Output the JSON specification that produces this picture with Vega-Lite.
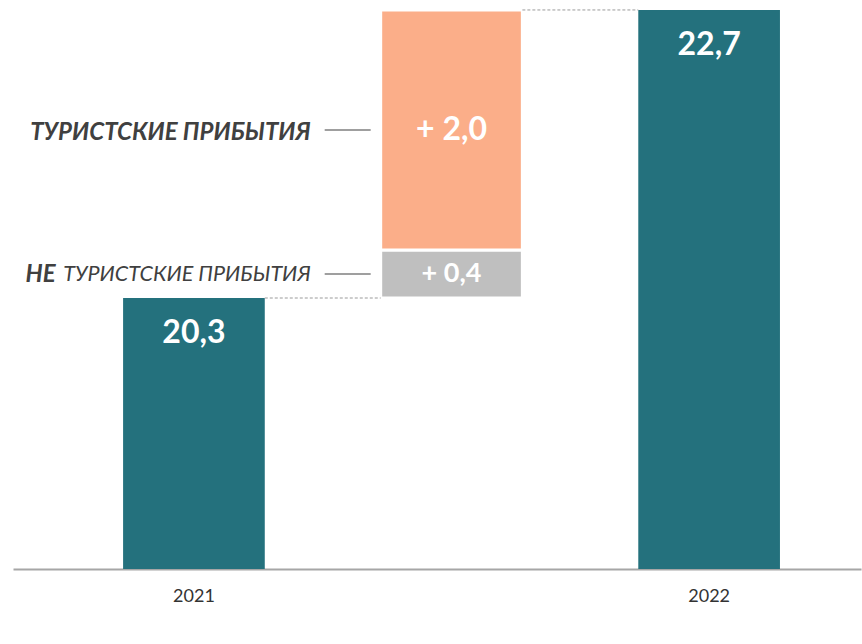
{
  "$schema": "https://vega.github.io/schema/vega-lite/v6.json",
  "width": 848,
  "height": 569,
  "autosize": {"type": "none"},
  "padding": {"left": 13, "top": 0, "right": 1, "bottom": 75},
  "background": "white",
  "config": {"view": {"stroke": null}, "font": "Lato"},
  "datasets": {
    "bars": [
      {"cat": "2021", "start": 18, "end": 20.3, "kind": "total", "label": "20,3", "note": ""},
      {"cat": "mid", "start": 20.3, "end": 20.7, "kind": "non", "label": "+ 0,4", "note": "ТУРИСТСКИЕ ПРИБЫТИЯ"},
      {"cat": "mid", "start": 20.7, "end": 22.7, "kind": "tour", "label": "+ 2,0", "note": "ТУРИСТСКИЕ ПРИБЫТИЯ"},
      {"cat": "2022", "start": 18, "end": 22.7, "kind": "total", "label": "22,7", "note": ""}
    ],
    "links": [
      {"from": "2021", "to": "mid", "level": 20.3},
      {"from": "mid", "to": "2022", "level": 22.7}
    ]
  },
  "encoding": {
    "x": {
      "field": "cat",
      "type": "nominal",
      "sort": ["2021", "mid", "2022"],
      "scale": {"type": "band", "domain": ["2021", "mid", "2022"], "paddingInner": 0.45, "paddingOuter": 0.371, "align": 0.576},
      "axis": {
        "title": null,
        "labelExpr": "datum.value == 'mid' ? '' : datum.value",
        "domain": true,
        "domainColor": "#a6a6a6",
        "domainWidth": 2,
        "ticks": false,
        "grid": false,
        "labelFontSize": 18,
        "labelColor": "#333333",
        "labelFont": "Lato",
        "labelPadding": 18,
        "labelAngle": 0
      }
    }
  },
  "layer": [
    {
      "data": {"name": "bars"},
      "mark": {"type": "bar", "clip": true},
      "encoding": {
        "y": {"field": "start", "type": "quantitative", "scale": {"domain": [18.042, 22.783], "zero": false, "nice": false}, "axis": null},
        "y2": {"field": "end"},
        "color": {
          "field": "kind",
          "type": "nominal",
          "scale": {"domain": ["total", "non", "tour"], "range": ["#24717d", "#bfbfbf", "#fbae89"]},
          "legend": null
        },
        "stroke": {
          "field": "kind",
          "type": "nominal",
          "scale": {"domain": ["total", "non", "tour"], "range": ["#24717d", "#ffffff", "#ffffff"]},
          "legend": null
        },
        "strokeWidth": {"condition": {"test": "datum.kind == 'total'", "value": 0}, "value": 3}
      }
    },
    {
      "data": {"name": "links"},
      "mark": {"type": "rule", "strokeDash": [3, 2], "color": "#9a9a9a", "strokeWidth": 1},
      "encoding": {
        "x": {"field": "from", "type": "nominal", "bandPosition": 1},
        "x2": {"field": "to", "bandPosition": 0},
        "y": {"field": "level", "type": "quantitative"}
      }
    },
    {
      "data": {"name": "bars"},
      "transform": [{"filter": "datum.kind == 'total'"}],
      "mark": {"type": "text", "font": "Lato", "fontWeight": "bold", "fontSize": 32, "color": "white", "baseline": "middle", "dy": 35},
      "encoding": {
        "y": {"field": "end", "type": "quantitative"},
        "text": {"field": "label"}
      }
    },
    {
      "data": {"name": "bars"},
      "transform": [{"filter": "datum.kind != 'total'"}, {"calculate": "(datum.start + datum.end) / 2", "as": "midv"}],
      "mark": {"type": "text", "font": "Lato", "fontWeight": "bold", "color": "white", "baseline": "middle"},
      "encoding": {
        "y": {"field": "midv", "type": "quantitative"},
        "text": {"field": "label"},
        "size": {"condition": {"test": "datum.kind == 'tour'", "value": 32}, "value": 27}
      }
    },
    {
      "data": {"name": "bars"},
      "transform": [{"filter": "datum.kind != 'total'"}, {"calculate": "(datum.start + datum.end) / 2", "as": "midv"}],
      "mark": {"type": "rule", "color": "#7f7f7f", "strokeWidth": 1.5, "xOffset": -56, "x2Offset": -10},
      "encoding": {
        "x": {"field": "cat", "type": "nominal", "bandPosition": 0},
        "x2": {"field": "cat", "bandPosition": 0},
        "y": {"field": "midv", "type": "quantitative"}
      }
    },
    {
      "data": {"name": "bars"},
      "transform": [{"filter": "datum.kind == 'tour'"}, {"calculate": "(datum.start + datum.end) / 2", "as": "midv"}],
      "mark": {"type": "text", "font": "Lato", "fontWeight": "bold", "fontStyle": "italic", "fontSize": 24, "color": "#404040", "align": "right", "baseline": "middle", "dx": -70, "dy": 3},
      "encoding": {
        "x": {"field": "cat", "type": "nominal", "bandPosition": 0},
        "y": {"field": "midv", "type": "quantitative"},
        "text": {"field": "note"}
      }
    },
    {
      "data": {"name": "bars"},
      "transform": [{"filter": "datum.kind == 'non'"}, {"calculate": "(datum.start + datum.end) / 2", "as": "midv"}],
      "mark": {"type": "text", "font": "Lato", "fontWeight": "normal", "fontStyle": "italic", "fontSize": 21.5, "color": "#404040", "align": "right", "baseline": "middle", "dx": -70, "dy": 1},
      "encoding": {
        "x": {"field": "cat", "type": "nominal", "bandPosition": 0},
        "y": {"field": "midv", "type": "quantitative"},
        "text": {"field": "note"}
      }
    },
    {
      "data": {"name": "bars"},
      "transform": [{"filter": "datum.kind == 'non'"}, {"calculate": "(datum.start + datum.end) / 2", "as": "midv"}],
      "mark": {"type": "text", "font": "Lato", "fontWeight": "bold", "fontStyle": "italic", "fontSize": 24, "color": "#404040", "align": "right", "baseline": "middle", "dx": -325, "dy": 1},
      "encoding": {
        "x": {"field": "cat", "type": "nominal", "bandPosition": 0},
        "y": {"field": "midv", "type": "quantitative"},
        "text": {"value": "НЕ"}
      }
    }
  ]
}
